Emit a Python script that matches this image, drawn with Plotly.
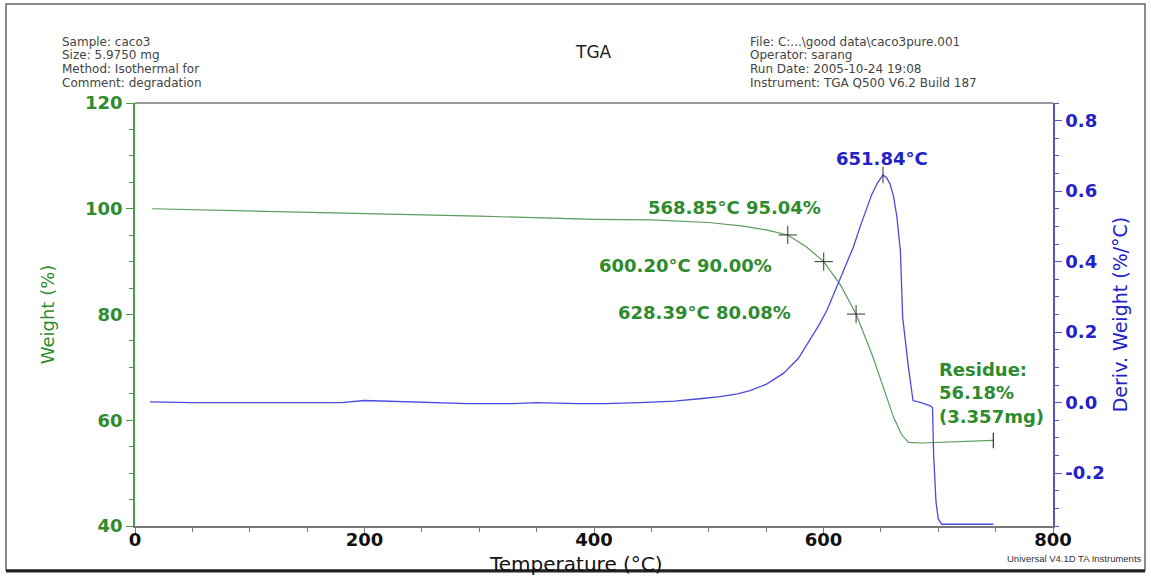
import plotly.graph_objects as go

# ---- data ----
tga_temp = [15, 100, 200, 300, 400, 450, 500, 530, 550, 568.85, 585, 600.2, 615,
            628.39, 643, 655, 661, 668, 674, 685, 710, 730, 748]
tga_weight = [100.0, 99.6, 99.1, 98.6, 98.0, 97.9, 97.4, 96.7, 96.0, 95.04, 92.8, 90.0, 85.5,
              80.08, 72.0, 64.4, 60.6, 57.3, 55.8, 55.7, 55.9, 56.05, 56.18]

dtg_temp = [13, 50, 100, 150, 180, 200, 225, 250, 290, 330, 350, 385, 410, 440, 470, 492,
            510, 525, 536, 550, 565, 578, 588, 596, 603, 614, 620, 626, 632, 638, 642, 647,
            651.84, 655, 658, 661, 664, 667, 669, 674, 678, 685, 693, 695, 696, 698, 700,
            703, 720, 748]
dtg_deriv = [0.002, 0.0, 0.0, 0.0, 0.0, 0.006, 0.004, 0.0, -0.003, -0.003, 0.0, -0.003,
             -0.003, 0.0, 0.004, 0.011, 0.017, 0.025, 0.034, 0.052, 0.083, 0.125, 0.177,
             0.22, 0.262, 0.347, 0.39, 0.441, 0.5, 0.555, 0.59, 0.623, 0.646, 0.638, 0.62,
             0.585, 0.526, 0.43, 0.242, 0.1, 0.006, 0.0, -0.009, -0.014, -0.15, -0.28, -0.33,
             -0.345, -0.345, -0.345]

mark_temp = [568.85, 600.20, 628.39]
mark_weight = [95.04, 90.00, 80.08]
peak_temp = [651.84]
peak_deriv = [0.646]
residue_temp = [748]
residue_weight = [56.18]

y2_ticks = [-0.2, 0.0, 0.2, 0.4, 0.6, 0.8]

header_left = ["Sample: caco3", "Size: 5.9750 mg", "Method: Isothermal for", "Comment: degradation"]
header_right = ["File: C:...\\good data\\caco3pure.001", "Operator: sarang",
                "Run Date: 2005-10-24 19:08", "Instrument: TGA Q500 V6.2 Build 187"]

GREEN_TXT = "#2e8b2e"
GREEN_LINE = "#5c9c5c"
BLUE_TXT = "#2222c8"
BLUE_LINE = "#4a4ae0"
BLUE_AXIS = "#5555bb"

W, H = 1151, 580
L, R, T, B = 135, 98, 103, 54
PW, PH = W - L - R, H - T - B


def px(x):
    return (x - L) / PW


def py(y):
    return (H - B - y) / PH


fig = go.Figure()
fig.add_trace(go.Scatter(x=tga_temp, y=tga_weight, mode="lines",
                         line=dict(color=GREEN_LINE, width=1.2), yaxis="y", showlegend=False))
fig.add_trace(go.Scatter(x=dtg_temp, y=dtg_deriv, mode="lines",
                         line=dict(color=BLUE_LINE, width=1.3), yaxis="y2", showlegend=False))
fig.add_trace(go.Scatter(x=mark_temp, y=mark_weight, mode="markers",
                         marker=dict(symbol="cross-thin", size=13,
                                     line=dict(color="#333333", width=1)),
                         yaxis="y", showlegend=False))
fig.add_trace(go.Scatter(x=residue_temp, y=residue_weight, mode="markers",
                         marker=dict(symbol="line-ns", size=11,
                                     line=dict(color="#333333", width=1.2)),
                         yaxis="y", showlegend=False))
fig.add_trace(go.Scatter(x=peak_temp, y=peak_deriv, mode="markers",
                         marker=dict(symbol="line-ns", size=12,
                                     line=dict(color="#333333", width=1)),
                         yaxis="y2", showlegend=False))

ann = []


def add_text(x, y, text, font, xanchor="center", align="center"):
    ann.append(dict(x=px(x), y=py(y), xref="paper", yref="paper", xanchor=xanchor,
                    yanchor="middle", align=align, text=text, showarrow=False, font=font))


bold = dict(family="DejaVu Sans", size=18, color=GREEN_TXT, weight="bold")
add_text(734, 207, f"{mark_temp[0]:.2f}°C {mark_weight[0]:.2f}%", bold)
add_text(685, 265, f"{mark_temp[1]:.2f}°C {mark_weight[1]:.2f}%", bold)
add_text(704, 312, f"{mark_temp[2]:.2f}°C {mark_weight[2]:.2f}%", bold)
add_text(882, 158, f"{peak_temp[0]:.2f}°C",
         dict(family="DejaVu Sans", size=18, color=BLUE_TXT, weight="bold"))
add_text(937, 393, f"Residue:<br>{residue_weight[0]:.2f}%<br>(3.357mg)", bold,
         xanchor="left", align="left")

hdr_font = dict(family="DejaVu Sans", size=12, color="#444444")
for i, t in enumerate(header_left):
    add_text(60, 42 + 13.5 * i, t, hdr_font, xanchor="left", align="left")
for i, t in enumerate(header_right):
    add_text(748, 42 + 13.5 * i, t, hdr_font, xanchor="left", align="left")
add_text(593, 52, "TGA", dict(family="DejaVu Sans", size=17, color="#222222"))
add_text(1144, 558, "Universal V4.1D TA Instruments",
         dict(family="Liberation Sans", size=9.5, color="#333333"), xanchor="right", align="right")
add_text(576, 564, "Temperature (°C)", dict(family="DejaVu Sans", size=20, color="#111111"))

shapes = [
    dict(type="rect", xref="paper", yref="paper", x0=px(6), x1=px(1145), y0=py(570), y1=py(4),
         line=dict(color="#666666", width=1.5)),
    dict(type="line", xref="paper", yref="paper", x0=px(6), x1=px(1145), y0=py(571), y1=py(571),
         line=dict(color="#222222", width=3)),
    dict(type="line", xref="paper", yref="paper", x0=0, x1=1, y0=1, y1=1,
         line=dict(color="#777777", width=1.5)),
]

fig.update_layout(
    width=W, height=H,
    margin=dict(l=L, r=R, t=T, b=B, autoexpand=False),
    paper_bgcolor="white", plot_bgcolor="white",
    annotations=ann, shapes=shapes,
    xaxis=dict(range=[0, 800], dtick=200, tick0=0, showgrid=False, zeroline=False,
               automargin=False,
               showline=True, linecolor="#777777", linewidth=1.5,
               ticks="outside", ticklen=6, tickcolor="#777777",
               minor=dict(dtick=50, ticks="outside", ticklen=4, tickcolor="#777777"),
               ticklabelstandoff=-9,
               tickfont=dict(family="DejaVu Sans", size=18, color="#111111", weight="bold")),
    yaxis=dict(range=[40, 120], dtick=20, tick0=40, showgrid=False, zeroline=False,
               automargin=False,
               showline=True, linecolor="#4a9a4a", linewidth=1.5,
               ticks="outside", ticklen=7, tickcolor="#4a9a4a",
               minor=dict(dtick=5, ticks="outside", ticklen=4, tickcolor="#4a9a4a"),
               tickfont=dict(family="DejaVu Sans", size=18, color=GREEN_TXT, weight="bold"),
               title=dict(text="Weight (%)", standoff=26,
                          font=dict(family="DejaVu Sans", size=18, color=GREEN_TXT))),
    yaxis2=dict(range=[-0.35, 0.85], overlaying="y", side="right",
                tickvals=y2_ticks, ticktext=[f"{v:.1f}" for v in y2_ticks],
                showgrid=False, zeroline=False, automargin=False,
                showline=True, linecolor=BLUE_AXIS, linewidth=1.5,
                ticks="outside", ticklen=7, tickcolor=BLUE_AXIS,
                minor=dict(dtick=0.05, tick0=0, ticks="outside", ticklen=4, tickcolor=BLUE_AXIS),
                tickfont=dict(family="DejaVu Sans", size=18, color=BLUE_TXT, weight="bold"),
                title=dict(text="Deriv. Weight (%/°C)", standoff=10,
                           font=dict(family="DejaVu Sans", size=19, color=BLUE_TXT))),
)

fig.write_html("out.html")
